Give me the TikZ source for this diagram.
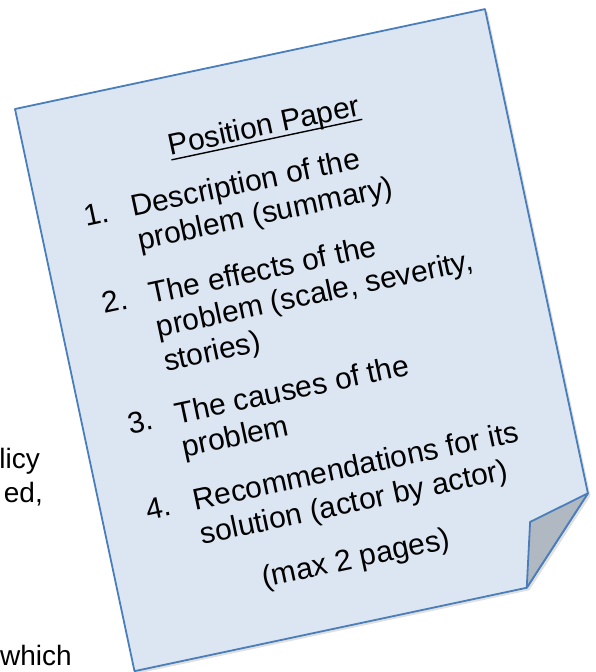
\documentclass[tikz,border=0pt]{standalone}
\usepackage{fontspec}
\setmainfont{Liberation Sans}
\definecolor{paper}{HTML}{DCE6F2}
\definecolor{edge}{HTML}{4A7EBB}
\definecolor{fold}{HTML}{B0B8C2}
\newcommand{\ulined}[1]{{\setbox0\hbox{#1}\rlap{\rule[-5pt]{\wd0}{1.4pt}}\box0}}

\begin{document}
\begin{tikzpicture}[x=1pt, y=-1pt,
        line/.style={anchor=base west, inner sep=0pt, font=\fontsize{30}{35}\selectfont},
        side/.style={anchor=base east, inner sep=0pt, font=\fontsize{28}{33}\selectfont},
        sheet/.style={draw=edge, line width=1.8pt, line join=round}]
\useasboundingbox (0,0) rectangle (596,672);
\node[side] (policy) at (40,468) {licy};
\node[side] (listed) at (43,502) {ed,};
\node[side] (which) at (72,665) {which};

\begin{scope}[shift={(15,109)}, rotate=12, transform shape]
\fill[black, opacity=0.12] (2,3) -- (482.5,3) -- (482.5,498) -- (403,577.7) -- (2,577.7) -- cycle;
\draw[sheet, fill=paper] (0,0) -- (480.5,0) -- (480.5,495) -- (401,574.7) -- (0,574.7) -- cycle;
\draw[sheet, fill=fold] (480.5,495) -- (418,511) -- (401,574.7) -- cycle;

\node[line, anchor=base] (title) at (240,78) {\ulined{Position Paper}};
\foreach \n/\v in {1/130, 2/219, 3/342, 4/430}
    \node[line] (num\n) at (45,\v) {\n.};
\foreach \v/\txt [count=\i] in {130/Description of the, 164/problem (summary),
        219/The effects of the, 253/{problem (scale, severity,}, 288/stories),
        342/The causes of the, 376/problem,
        430/Recommendations for its, 465/solution (actor by actor)}
    \node[line] (text\i) at (93,\v) {\txt};
\node[line, anchor=base] (limit) at (240,520) {(max 2 pages)};
\end{scope}
\end{tikzpicture}
\end{document}
